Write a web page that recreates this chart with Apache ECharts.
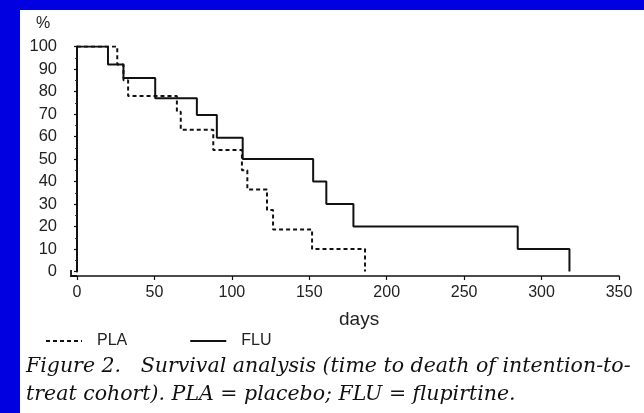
<!DOCTYPE html>
<html>
<head>
<meta charset="utf-8">
<script src="https://cdn.jsdelivr.net/npm/echarts@6/dist/echarts.min.js"></script>
<style>
html,body{margin:0;padding:0;background:#0000e0;}
#wrap{position:absolute;left:20px;top:10px;width:624px;height:403px;background:#fff;}
#chart{position:absolute;left:0;top:0;width:644px;height:413px;}
</style>
</head>
<body>
<div id="wrap"></div>
<div id="chart"></div>
<script>
// Data (Kaplan-Meier steps)
const xTicks = [0, 50, 100, 150, 200, 250, 300, 350];
const yTicks = [0, 10, 20, 30, 40, 50, 60, 70, 80, 90, 100];
const seriesNames = ['PLA', 'FLU'];
const plaDays = [0, 26, 30, 33, 64.5, 67, 88, 106.5, 110, 122.7, 126.6, 151.8, 186];
const plaSurv = [100, 92, 85, 78, 71, 63, 54, 45, 36.5, 27.3, 18.7, 10, 0];
const fluDays = [0, 20, 30, 50.5, 77.4, 90.3, 107, 152.5, 161, 178.5, 284.6, 318];
const fluSurv = [100, 92, 86, 77, 69.6, 59.5, 50, 40, 30, 20, 10, 0];
const captionLines = [
  'Figure 2.   Survival analysis (time to death of intention-to-',
  'treat cohort). PLA = placebo; FLU = flupirtine.'
];

const pla = plaDays.map((d, i) => [d, plaSurv[i]]);
const flu = fluDays.map((d, i) => [d, fluSurv[i]]);

const chart = echarts.init(document.getElementById('chart'), null, {renderer: 'canvas'});
const sans = 'Liberation Sans, Arial, sans-serif';
const serifFont = 'italic 20.5px "DejaVu Serif", serif';
chart.setOption({
  backgroundColor: 'transparent',
  animation: false,
  grid: {left: 77, right: 25, top: 46.5, bottom: 141.5, containLabel: false},
  xAxis: {
    type: 'value', min: xTicks[0], max: xTicks[xTicks.length - 1], interval: 50,
    offset: 4.5,
    axisLine: {show: true, onZero: false, lineStyle: {color: '#111', width: 1.5}},
    axisTick: {show: true, length: 4, lineStyle: {color: '#111', width: 1.2}},
    axisLabel: {color: '#222', fontSize: 16, fontFamily: sans, margin: 9},
    splitLine: {show: false}
  },
  yAxis: {
    type: 'value', min: yTicks[0], max: yTicks[yTicks.length - 1], interval: 10,
    offset: 6,
    axisLine: {show: true, lineStyle: {color: '#111', width: 2}},
    axisTick: {show: true, length: 3, lineStyle: {color: '#111', width: 1.2}},
    minorTick: {show: true, splitNumber: 2, length: 2, lineStyle: {color: '#333', width: 1}},
    axisLabel: {color: '#222', fontSize: 16.5, fontFamily: sans, margin: 14},
    splitLine: {show: false}
  },
  legend: {
    left: 40, top: 328, itemWidth: 36, itemHeight: 12, itemGap: 62,
    data: seriesNames,
    itemStyle: {opacity: 0},
    textStyle: {color: '#222', fontSize: 16, fontFamily: sans, padding: [0, 0, 0, 10]}
  },
  series: [
    {
      name: seriesNames[0], type: 'line', step: 'end', data: pla, symbol: 'none',
      lineStyle: {color: '#111', width: 2, type: [4, 3]}, itemStyle: {color: '#111'}
    },
    {
      name: seriesNames[1], type: 'line', step: 'end', data: flu, symbol: 'none',
      lineStyle: {color: '#111', width: 2}, itemStyle: {color: '#111'}
    }
  ],
  graphic: [
    {type: 'polyline', shape: {points: [[71, 270], [71, 276], [77, 276]]}, style: {stroke: '#111', lineWidth: 1.8, fill: null}},
    {type: 'text', left: 36, top: 16, style: {text: '%', fill: '#222', font: '16px ' + sans}},
    {type: 'text', left: 339, top: 310, style: {text: 'days', fill: '#222', font: '19px ' + sans}},
    {type: 'text', left: 26, top: 357, style: {text: captionLines[0], fill: '#111', font: serifFont}},
    {type: 'text', left: 26, top: 385, style: {text: captionLines[1], fill: '#111', font: serifFont}}
  ]
});
</script>
</body>
</html>
